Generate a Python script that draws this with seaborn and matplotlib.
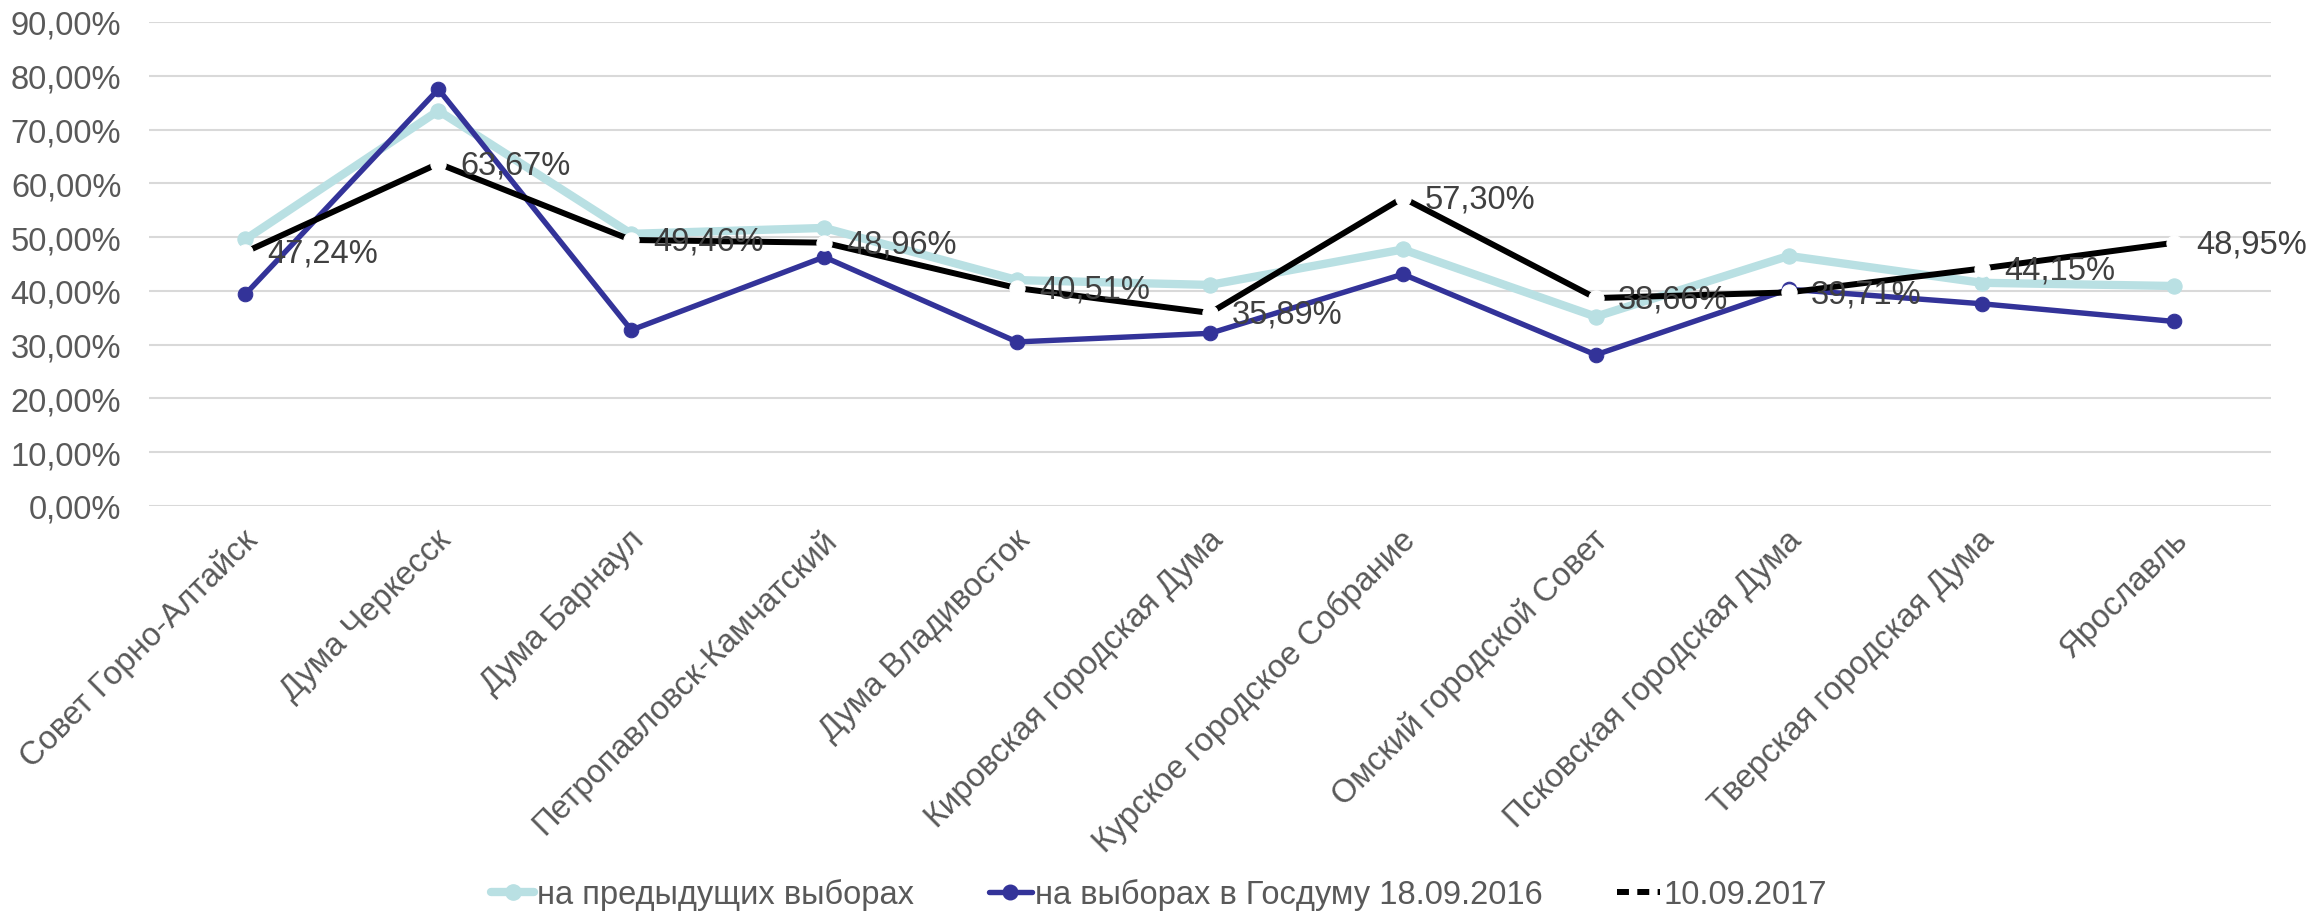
import numpy as np
import pandas as pd
import seaborn as sns
import matplotlib.pyplot as plt
from matplotlib.lines import Line2D
from matplotlib.transforms import ScaledTranslation

sns.set_style('white')
plt.rcParams['font.family'] = ['Liberation Sans', 'DejaVu Sans']

categories = ['Совет Горно-Алтайск', 'Дума Черкесск', 'Дума Барнаул',
              'Петропавловск-Камчатский', 'Дума Владивосток',
              'Кировская городская Дума', 'Курское городское Собрание',
              'Омский городской Совет', 'Псковская городская Дума',
              'Тверская городская Дума', 'Ярославль']
prev_elections = [49.6, 73.5, 50.6, 51.7, 42.0, 41.1, 47.7, 35.2, 46.5, 41.5, 40.9]
duma_2016 = [39.4, 77.5, 32.7, 46.3, 30.5, 32.1, 43.1, 28.1, 40.3, 37.6, 34.3]
elections_2017 = [47.24, 63.67, 49.46, 48.96, 40.51, 35.89, 57.30, 38.66, 39.71, 44.15, 48.95]
y_ticks = list(range(0, 100, 10))

names = ['на предыдущих выборах', 'на выборах в Госдуму 18.09.2016', '10.09.2017']
c_light = '#b9e0e3'
c_dark = '#333399'
fs = 23.5

df = pd.DataFrame({'pos': np.arange(len(categories)), 'cat': categories,
                   'prev': prev_elections, 'gd': duma_2016, 'y17': elections_2017})

fig = plt.figure(figsize=(23.18, 9.2), dpi=100)
ax = fig.add_axes([0.0643, 0.449, 0.9154, 0.526])

# three series, drawn one by one so each gets its own style
sns.lineplot(data=df, x='pos', y='prev', ax=ax, color=c_light, lw=6,
             marker='o', ms=11, mec=c_light, mfc=c_light, zorder=3)
sns.lineplot(data=df, x='pos', y='gd', ax=ax, color=c_dark, lw=3.9,
             marker='o', ms=10.5, mec=c_dark, mfc=c_dark, zorder=4)
sns.lineplot(data=df, x='pos', y='y17', ax=ax, color='black', lw=4.3,
             marker='o', ms=11, mec='white', mfc='white', zorder=5)

for x, v in zip(df['pos'], elections_2017):
    ax.annotate(f'{v:.2f}%'.replace('.', ','), (x, v), xytext=(16, -1),
                textcoords='offset points', ha='left', va='center',
                fontsize=fs, color='#404040', zorder=6)

ax.set_xlim(-0.5, len(categories) - 0.5)
ax.set_ylim(0, 90)
ax.set_yticks(y_ticks)
ax.set_yticklabels([f'{t},00%' for t in y_ticks])
ax.set_xticks(df['pos'])
ax.set_xticklabels(categories, rotation=45, ha='right', va='baseline',
                   rotation_mode='anchor')
ax.tick_params(axis='both', length=0, labelsize=fs, colors='#595959')
ax.tick_params(axis='x', pad=25)
ax.tick_params(axis='y', pad=20)
# nudge the rotated labels a little to the right
shift = ScaledTranslation(0.14, 0, fig.dpi_scale_trans)
for lab in ax.get_xticklabels():
    lab.set_transform(lab.get_transform() + shift)
ax.set_xlabel('')
ax.set_ylabel('')
ax.grid(axis='y', color='#d9d9d9', lw=1.5)
ax.set_axisbelow(True)
for s in ax.spines.values():
    s.set_visible(False)

handles = [
    Line2D([], [], color=c_light, lw=6, marker='o', ms=11),
    Line2D([], [], color=c_dark, lw=3.9, marker='o', ms=10.5),
    Line2D([], [], color='black', lw=4.3, ls=(0, (2.0, 1.4))),
]
fig.legend(handles, names, loc='center', bbox_to_anchor=(0.5, 0.027), ncol=3,
           frameon=False, fontsize=fs, labelcolor='#595959', handlelength=1.3,
           handletextpad=0.1, columnspacing=2.3)

fig.savefig('out.png', dpi=100)
